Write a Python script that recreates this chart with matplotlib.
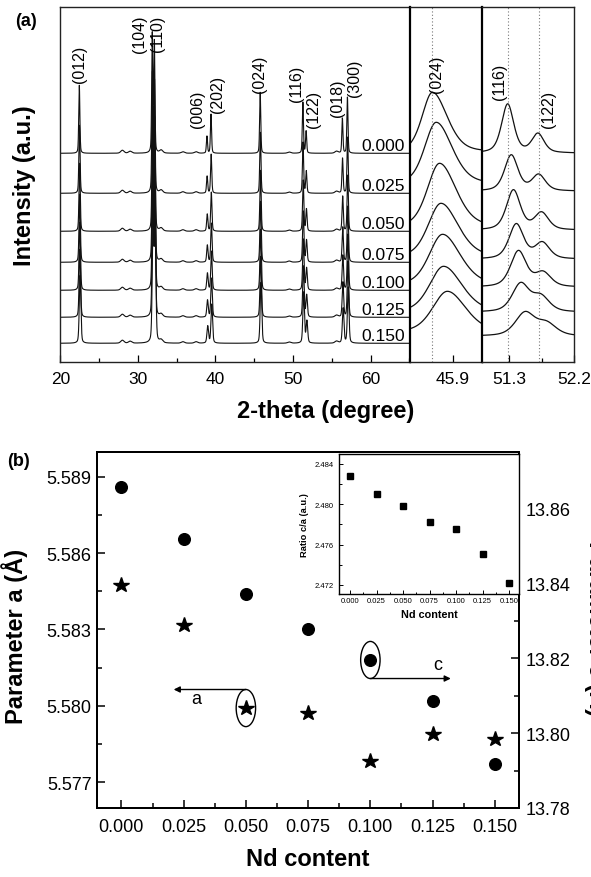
import numpy as np
import matplotlib.pyplot as plt
from matplotlib.patches import Ellipse
from matplotlib.ticker import MultipleLocator, FixedLocator, FormatStrFormatter, NullLocator

plt.rcParams['font.family'] = ['Liberation Sans', 'DejaVu Sans']

# samples
nd = [0.000, 0.025, 0.050, 0.075, 0.100, 0.125, 0.150]
nd_labels = ['0.000', '0.025', '0.050', '0.075', '0.100', '0.125', '0.150']

# XRD reflections of the 0.000 sample: 2-theta (deg), intensity (a.u.)
hkl = ['(012)', '(104)', '(110)', '(006)', '(202)', '(024)', '(116)', '(122)', '(018)', '(300)']
hkl_pos = [22.45, 31.85, 32.12, 38.90, 39.42, 45.76, 51.26, 51.68, 56.35, 57.00]
hkl_int = [68, 118, 110, 17, 39, 61, 51, 22, 35, 56]
# weak background bumps
bump_pos = [28.0, 29.0, 33.0, 35.8, 37.5, 49.5, 55.6]
bump_int = [3.0, 2.0, 3.0, 1.5, 1.5, 1.2, 2.0]
# per-sample peak shift, peak width, stacking offset
peak_shift = [0.00, 0.02, 0.04, 0.05, 0.06, 0.07, 0.10]
peak_fwhm = [0.17, 0.18, 0.19, 0.20, 0.21, 0.22, 0.24]
stack = [209, 169, 131, 100, 72, 45, 19]

# (024) close-up
z1_pos = [45.759, 45.785, 45.808, 45.818, 45.829, 45.836, 45.862]
z1_int = [60, 62, 64, 54, 51, 46, 41]
z1_fwhm_l = [0.17, 0.19, 0.20, 0.21, 0.22, 0.23, 0.24]
z1_fwhm_r = [0.24, 0.26, 0.27, 0.28, 0.29, 0.30, 0.30]
z1_stack = [210, 178, 135, 105, 77, 50, 30]

# (116)/(122) close-up
z2_pos116 = [51.28, 51.33, 51.36, 51.40, 51.43, 51.46, 51.52]
z2_int116 = [49, 36, 40, 35, 36, 28, 23]
z2_pos122 = [51.70, 51.71, 51.75, 51.76, 51.77, 51.74, 51.82]
z2_int122 = [19, 16, 17, 16, 14, 15, 12]
z2_fwhm = [0.20, 0.22, 0.23, 0.24, 0.26, 0.28, 0.32]
z2_stack = [209, 171, 132, 103, 75, 50, 26]

# lattice parameters
a_param = [5.58475, 5.58319, 5.57991, 5.57972, 5.57781, 5.57890, 5.57870]
c_param = [13.8657, 13.8517, 13.8370, 13.8277, 13.8195, 13.8086, 13.7917]
ratio_ca = [2.4828, 2.4810, 2.4798, 2.4782, 2.4775, 2.4751, 2.4722]


def pvoigt(x, x0, h, wl, wr=None, eta=0.35):
    if wr is None:
        wr = wl
    w = np.where(x < x0, wl, wr)
    u = (x - x0) / w
    return h * ((1 - eta) * np.exp(-4 * np.log(2) * u ** 2) + eta / (1 + 4 * u ** 2))


fig = plt.figure(figsize=(5.91, 8.78), dpi=100)
W, H = 591.0, 878.0


def box(l, t, r, b):
    return [l / W, 1 - b / H, (r - l) / W, (b - t) / H]


lc = '#111111'

# ---------- (a) XRD patterns ----------
ax = fig.add_axes(box(60.3, 8.3, 409.5, 363.3))
z1 = fig.add_axes(box(409.5, 8.3, 481.7, 363.3))
z2 = fig.add_axes(box(481.7, 8.3, 574, 363.3))

tt = np.arange(20, 65.001, 0.005)
for i in range(len(nd)):
    y = np.full_like(tt, stack[i], dtype=float)
    for p, h in zip(hkl_pos, hkl_int):
        y += pvoigt(tt, p + peak_shift[i], h, peak_fwhm[i])
    for p, h in zip(bump_pos, bump_int):
        y += pvoigt(tt, p, h, 0.5)
    ax.plot(tt, y, color=lc, lw=0.8)
    ax.text(64.45, stack[i] + 3, nd_labels[i], ha='right', va='baseline', fontsize=12.5)

hkl_lx = [22.41, 30.27, 32.59, 37.74, 40.32, 45.73, 50.50, 52.69, 55.66, 57.85]
hkl_ly = [280, 310, 311, 235, 250, 270, 261, 235, 246, 266]
for lab, lx, ly in zip(hkl, hkl_lx, hkl_ly):
    ax.text(lx, ly, lab, rotation=90, ha='center', va='bottom', fontsize=11.5)

ax.set_xlim(20, 65)
ax.set_ylim(0, 355)
ax.xaxis.set_major_locator(MultipleLocator(10))
ax.xaxis.set_minor_locator(MultipleLocator(5))
ax.yaxis.set_major_locator(NullLocator())

t1 = np.linspace(45.6, 46.1, 400)
for i in range(len(nd)):
    y = z1_stack[i] + pvoigt(t1, z1_pos[i], z1_int[i], z1_fwhm_l[i], z1_fwhm_r[i])
    z1.plot(t1, y, color=lc, lw=0.9)
z1.axvline(45.755, color='#777777', lw=0.8, ls=(0, (1, 2)))
z1.text(45.79, 270, '(024)', rotation=90, ha='center', va='bottom', fontsize=11.5)
z1.set_xlim(45.6, 46.1)
z1.set_ylim(0, 355)
z1.xaxis.set_major_locator(FixedLocator([45.9]))
z1.xaxis.set_major_formatter(FormatStrFormatter('%.1f'))
z1.yaxis.set_major_locator(NullLocator())

t2 = np.linspace(50.92, 52.2, 500)
for i in range(len(nd)):
    y = (z2_stack[i] + pvoigt(t2, z2_pos116[i], z2_int116[i], z2_fwhm[i], eta=0.5)
         + pvoigt(t2, z2_pos122[i], z2_int122[i], z2_fwhm[i], eta=0.5))
    z2.plot(t2, y, color=lc, lw=0.9)
for v in (51.29, 51.71):
    z2.axvline(v, color='#777777', lw=0.8, ls=(0, (1, 2)))
z2.text(51.17, 263, '(116)', rotation=90, ha='center', va='bottom', fontsize=11.5)
z2.text(51.84, 235, '(122)', rotation=90, ha='center', va='bottom', fontsize=11.5)
z2.set_xlim(50.92, 52.2)
z2.set_ylim(0, 355)
z2.xaxis.set_major_locator(FixedLocator([51.3, 52.2]))
z2.xaxis.set_minor_locator(FixedLocator([51.75]))
z2.xaxis.set_major_formatter(FormatStrFormatter('%.1f'))
z2.yaxis.set_major_locator(NullLocator())

for a_ in (ax, z1, z2):
    a_.tick_params(axis='x', which='both', direction='in', top=False, labelsize=12.5, pad=6)
    a_.tick_params(axis='x', which='major', length=5, width=0.9)
    a_.tick_params(axis='x', which='minor', length=3, width=0.9)
    a_.tick_params(axis='y', which='both', left=False, right=False, labelleft=False)
    for s in a_.spines.values():
        s.set_linewidth(1.0)
        s.set_color('#222222')
for a_ in (z1, z2):
    a_.spines['left'].set_linewidth(1.6)
    a_.spines['left'].set_color('black')

fig.text(25 / W, 1 - 186 / H, 'Intensity (a.u.)', rotation=90, ha='center', va='center',
         fontsize=17, fontweight='bold')
fig.text(326 / W, 1 - 412 / H, '2-theta (degree)', ha='center', va='center',
         fontsize=17, fontweight='bold')
fig.text(26 / W, 1 - 21 / H, '(a)', ha='center', va='center', fontsize=13, fontweight='bold')

# ---------- (b) lattice parameters ----------
axb = fig.add_axes(box(97, 453, 519, 809))
axc = axb.twinx()

axb.plot(nd, a_param, ls='none', marker='*', ms=11.5, color='black')
axc.plot(nd, c_param, ls='none', marker='o', ms=8.4, color='black')

axb.set_xlim(-0.0098, 0.1597)
axb.set_ylim(5.57598, 5.58998)
axc.set_ylim(13.78, 13.875)

axb.xaxis.set_major_locator(MultipleLocator(0.025))
axb.xaxis.set_minor_locator(MultipleLocator(0.0125))
axb.xaxis.set_major_formatter(FormatStrFormatter('%.3f'))
axb.yaxis.set_major_locator(MultipleLocator(0.003))
axb.yaxis.set_minor_locator(MultipleLocator(0.0015))
axb.yaxis.set_major_formatter(FormatStrFormatter('%.3f'))
axc.yaxis.set_major_locator(MultipleLocator(0.02))
axc.yaxis.set_minor_locator(MultipleLocator(0.01))
axc.yaxis.set_major_formatter(FormatStrFormatter('%.2f'))

axb.tick_params(which='both', direction='in', top=False, right=False, labelsize=13, width=1.1)
axb.tick_params(axis='x', pad=7)
axb.tick_params(axis='y', pad=4)
axb.tick_params(which='major', length=6)
axb.tick_params(which='minor', length=3.5)
axc.tick_params(which='both', direction='in', labelsize=13, width=1.1, pad=5)
axc.tick_params(which='major', length=6)
axc.tick_params(which='minor', length=3.5)
for a_ in (axb, axc):
    for s in a_.spines.values():
        s.set_linewidth(1.4)

# markers for the a and c series
axb.add_patch(Ellipse((nd[2], a_param[2]), 0.0078, 0.00146, fill=False, lw=1.0, color='black'))
axb.annotate('', xy=(0.021, a_param[2] + 0.00073), xytext=(nd[2], a_param[2] + 0.00073),
             arrowprops=dict(arrowstyle='-|>', lw=1.0, color='black', shrinkA=0, shrinkB=0,
                             mutation_scale=9))
axb.text(0.030, 5.58027, 'a', ha='center', va='center', fontsize=13)

axc.add_patch(Ellipse((nd[4], c_param[4]), 0.0078, 0.0099, fill=False, lw=1.0, color='black'))
axc.annotate('', xy=(0.1323, c_param[4] - 0.00495), xytext=(nd[4], c_param[4] - 0.00495),
             arrowprops=dict(arrowstyle='-|>', lw=1.0, color='black', shrinkA=0, shrinkB=0,
                             mutation_scale=9))
axc.text(0.127, 13.8184, 'c', ha='center', va='center', fontsize=13)

fig.text(15 / W, 1 - 636 / H, 'Parameter a (Å)', rotation=90, ha='center', va='center',
         fontsize=17, fontweight='bold')
fig.text(308 / W, 1 - 860 / H, 'Nd content', ha='center', va='center',
         fontsize=17, fontweight='bold')
fig.text(584 / W, 1 - 629 / H, 'Parameter c (Å)', rotation=270, ha='left', va='center',
         fontsize=17, fontweight='bold')
fig.text(19 / W, 1 - 462 / H, '(b)', ha='center', va='center', fontsize=13, fontweight='bold')

# c/a inset
ins = fig.add_axes(box(339.3, 454.7, 519, 595))
ins.plot(nd, ratio_ca, ls='none', marker='s', ms=4.8, color='black')
ins.set_xlim(-0.0101, 0.1592)
ins.set_ylim(2.4711, 2.485)
ins.xaxis.set_major_locator(MultipleLocator(0.025))
ins.xaxis.set_minor_locator(MultipleLocator(0.0125))
ins.xaxis.set_major_formatter(FormatStrFormatter('%.3f'))
ins.yaxis.set_major_locator(MultipleLocator(0.004))
ins.yaxis.set_minor_locator(MultipleLocator(0.002))
ins.yaxis.set_major_formatter(FormatStrFormatter('%.3f'))
ins.tick_params(which='both', direction='in', top=False, right=False, labelsize=5.5, width=0.7)
ins.tick_params(which='major', length=3)
ins.tick_params(which='minor', length=1.8)
ins.tick_params(axis='x', pad=2)
ins.tick_params(axis='y', pad=4)
for s in ins.spines.values():
    s.set_linewidth(1.0)
ins.set_xlabel('Nd content', fontsize=7.8, fontweight='bold', labelpad=4)
ins.set_ylabel('Ratio c/a (a.u.)', fontsize=6.7, fontweight='bold', labelpad=4)

fig.savefig('out.png', dpi=100)
